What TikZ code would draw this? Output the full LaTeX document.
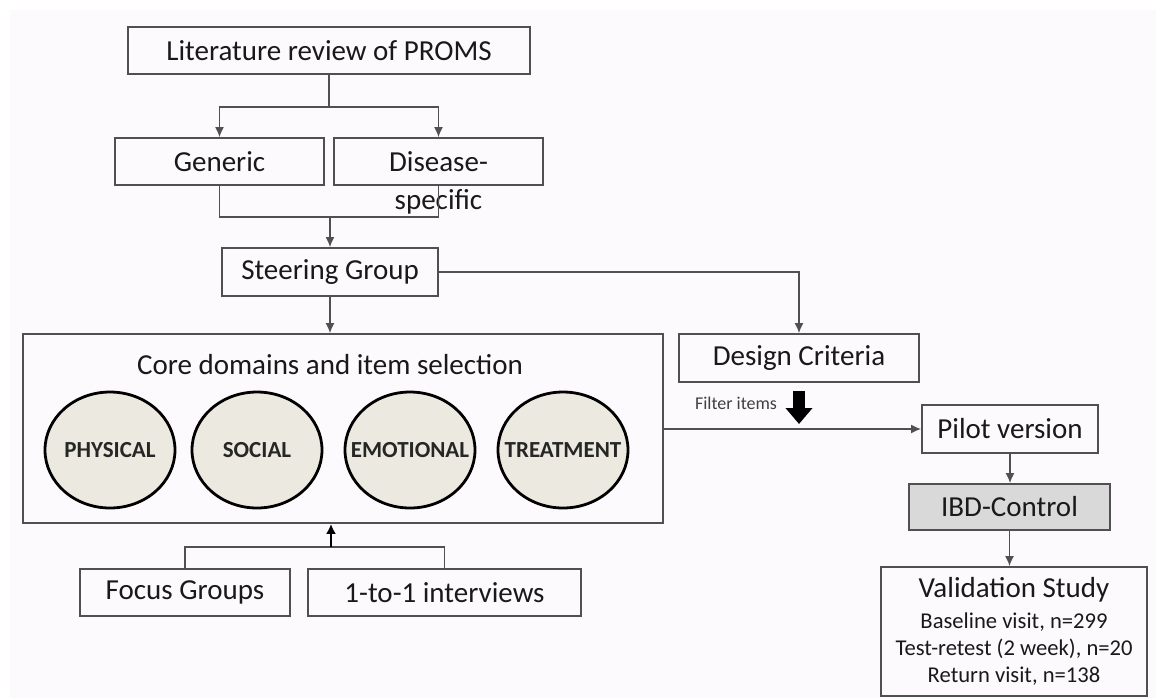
\documentclass[tikz,border=0pt]{standalone}
\usepackage{fontspec}
\setmainfont{Carlito}
\usetikzlibrary{arrows.meta,shapes.geometric}
\definecolor{boxline}{RGB}{80,80,80}
\definecolor{domainfill}{RGB}{236,234,224}
\definecolor{pagetint}{RGB}{253,250,253}
\begin{document}
\begin{tikzpicture}[x=0.5pt,y=-0.5pt] % one unit = one pixel of the original
\tikzstyle{mybox} = [draw=boxline, line width=0.9pt, inner sep=0pt, text=black!90, font=\fontsize{14.5}{17}\selectfont] % step box
\tikzstyle{mydomain} = [ellipse, draw=black, line width=1.4pt, fill=domainfill, minimum width=65pt, minimum height=58pt, inner sep=0pt, text=black!85, font=\fontsize{11.5}{13}\selectfont\bfseries,
  execute at begin node=\hbox to 0pt\bgroup\hss, execute at end node=\hss\egroup] % domain bubble, text may touch the rim
\tikzstyle{myline} = [draw=boxline, line width=0.75pt] % plain connector
\tikzstyle{myarrow} = [myline, -{Latex[length=5pt,width=4.5pt]}] % connector with head
\tikzstyle{mybigarrow} = [draw=black, line width=1.4pt, -{Latex[length=5pt,width=5pt]}] % thick head (interviews)

\useasboundingbox (0,0) rectangle (1156,698);
\fill[pagetint] (10,10) rectangle (1156,698);

% search of the literature
\node[mybox, minimum width=201pt, minimum height=23.5pt] (lit) at (329,50.5) {Literature review of PROMS};
\node[mybox, minimum width=104.5pt, minimum height=23.5pt] (gen) at (219.5,161.5) {Generic};
\node[mybox, minimum width=104.5pt, minimum height=23.5pt,
  label={[label distance=-2pt, text=black!90, font=\fontsize{14.5}{17}\selectfont]below:specific}] (dis) at (438.5,161.5) {Disease-};
\node[mybox, minimum width=108pt, minimum height=24pt] (steer) at (330,272) {Steering Group};

% core domains
\node[mybox, minimum width=320pt, minimum height=94.5pt] (core) at (343,428.5) {};
\node[text=black!90, font=\fontsize{14.5}{17}\selectfont] (coretitle) at (330,365) {Core domains and item selection};
\node[mydomain] (phys) at (110,450) {PHYSICAL};
\node[mydomain] (soc) at (257,450) {SOCIAL};
\node[mydomain] (emo) at (410,450) {EMOTIONAL};
\node[mydomain] (treat) at (563,450) {TREATMENT};

% qualitative work
\node[mybox, minimum width=105pt, minimum height=23.5pt] (focus) at (185,592.5) {Focus Groups};
\node[mybox, minimum width=136.5pt, minimum height=23.5pt] (inter) at (444.5,592.5) {1-to-1 interviews};

% right hand side
\node[mybox, minimum width=120pt, minimum height=24pt] (design) at (799,358) {Design Criteria};
\node[text=black!75, font=\fontsize{9}{11}\selectfont] (filter) at (736,403) {Filter items};
\node[mybox, minimum width=88pt, minimum height=24pt] (pilot) at (1010,429) {Pilot version};
\node[mybox, fill=black!15, minimum width=100.5pt, minimum height=23pt] (ibd) at (1009.5,507) {IBD-Control};
\node[mybox, minimum width=133pt, minimum height=64.5pt, align=center,
  font=\fontsize{11.3}{13.5}\selectfont] (val) at (1014,631.5)
  {{\fontsize{14.5}{17}\selectfont Validation Study}\\[2pt]
   Baseline visit, n=299\\
   Test-retest (2 week), n=20\\
   Return visit, n=138};

% connectors
\coordinate (split) at (329,107);
\coordinate (merge) at (330,217);
\coordinate (gather) at (331,547);
\coordinate (fa) at (799,391);
\coordinate (fb) at (799,424);

\draw[myline] (lit.south) -- (split);
\draw[myarrow] (split) -| (gen.north);
\draw[myarrow] (split) -| (dis.north);
\draw[myline] (gen.south) |- (merge) -| (dis.south);
\draw[myarrow] (merge) -- (steer.north);
\draw[myarrow] (steer.south) -- (steer.south |- core.north);
\draw[myarrow] (steer.east) -| (design.north);
\draw[myline] (focus.north) |- (gather) -| (inter.north);
\draw[mybigarrow] (gather) -- (gather |- core.south);
\draw[line width=6pt, -{Triangle[length=8pt,width=13pt]}] (fa) -- (fb);
\draw[myarrow] (core.east |- pilot.west) -- (pilot.west);
\draw[myarrow] (pilot.south) -- (pilot.south |- ibd.north);
\draw[myarrow] (ibd.south) -- (ibd.south |- val.north);
\end{tikzpicture}
\end{document}
